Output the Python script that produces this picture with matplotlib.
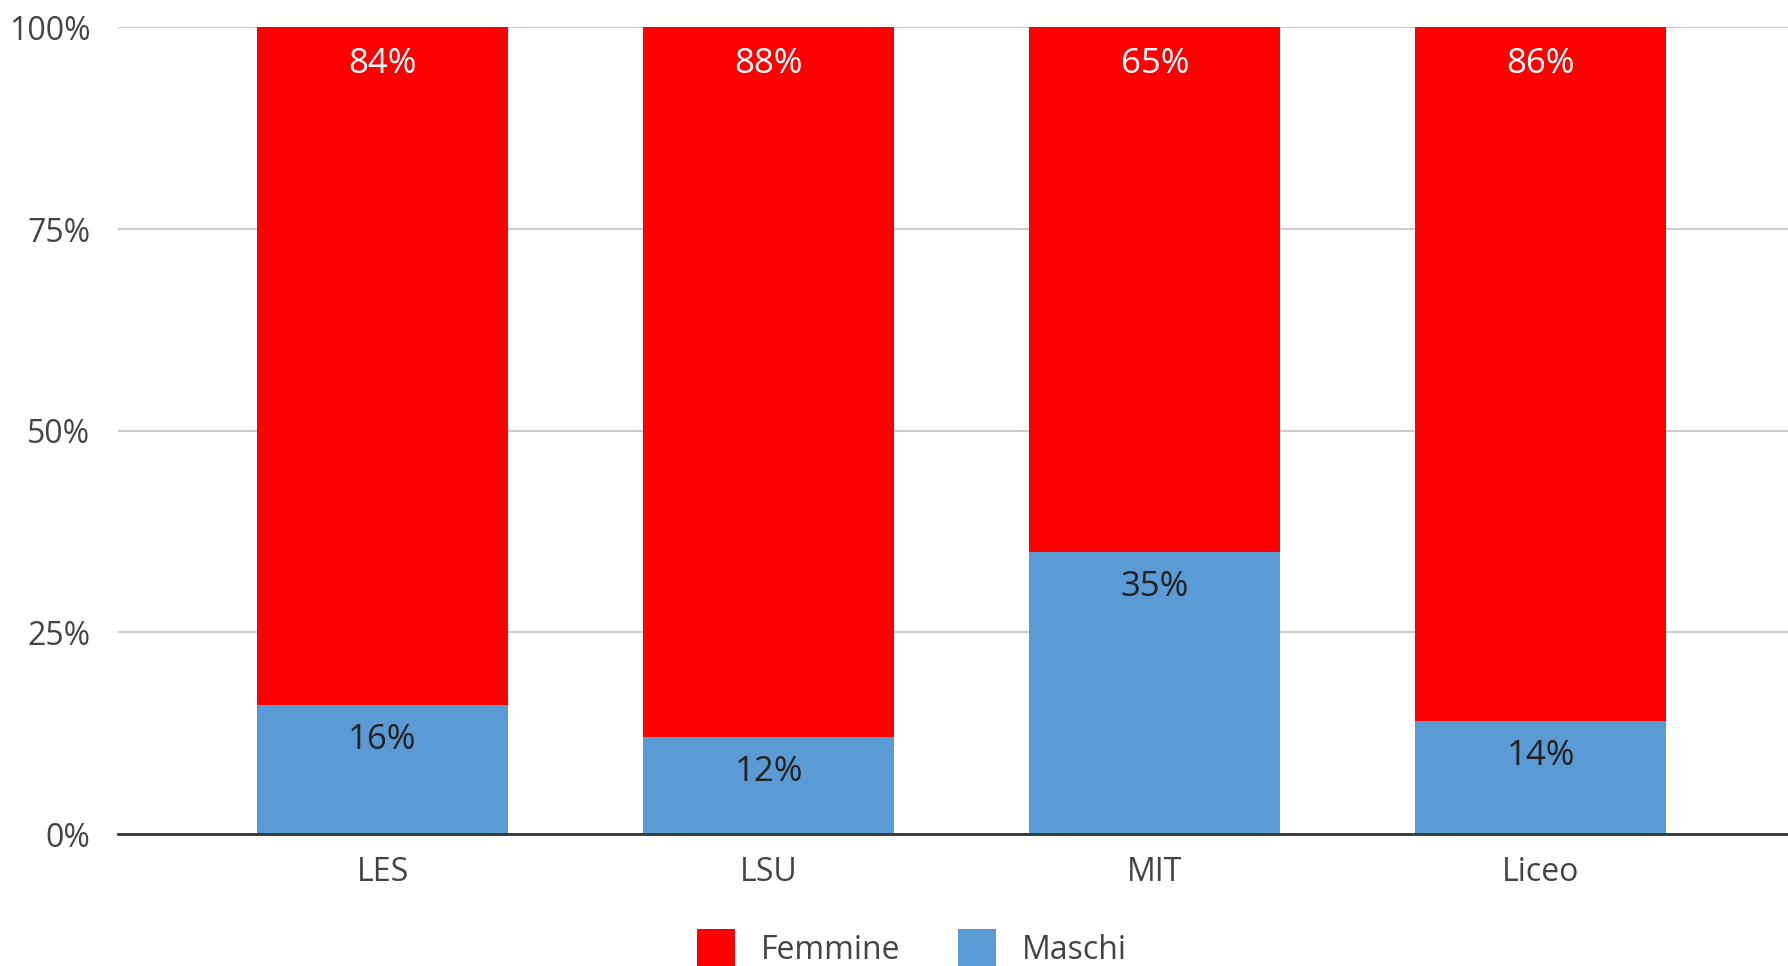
import matplotlib.pyplot as plt
from matplotlib.ticker import FuncFormatter

# dati
categorie = ['LES', 'LSU', 'MIT', 'Liceo']
femmine = [84, 88, 65, 86]
maschi = [16, 12, 35, 14]
yticks = [0, 25, 50, 75, 100]

rosso = '#FF0000'
blu = '#5B9BD5'

plt.rcParams['font.family'] = ['Open Sans', 'DejaVu Sans']

fig = plt.figure(figsize=(17.88, 9.66), dpi=100)
ax = fig.add_axes([0.066, 0.1366, 0.934, 0.835])

x = range(len(categorie))
b1 = ax.bar(x, maschi, width=0.65, color=blu, label='Maschi', zorder=3)
b2 = ax.bar(x, femmine, width=0.65, bottom=maschi, color=rosso, label='Femmine', zorder=3)

for i in x:
    ax.annotate(f'{femmine[i]}%', (i, maschi[i] + femmine[i]), xytext=(0, -14),
                textcoords='offset points', ha='center', va='top',
                fontsize=25, color='white', zorder=4)
    ax.annotate(f'{maschi[i]}%', (i, maschi[i]), xytext=(0, -13),
                textcoords='offset points', ha='center', va='top',
                fontsize=25, color='#222222', zorder=4)

ax.set_xlim(-0.685, 3.64)
ax.set_ylim(0, 100)
ax.set_yticks(yticks)
ax.yaxis.set_major_formatter(FuncFormatter(lambda v, p: f'{int(v)}%'))
ax.set_xticks(list(x))
ax.set_xticklabels(categorie)
ax.tick_params(axis='both', length=0, labelsize=23, labelcolor='#444444')
ax.tick_params(axis='x', pad=16)
ax.tick_params(axis='y', pad=20)

ax.grid(axis='y', color='#cccccc', linewidth=1.5, zorder=0)
for s in ['top', 'right', 'left']:
    ax.spines[s].set_visible(False)
ax.spines['bottom'].set_color('#333333')
ax.spines['bottom'].set_linewidth(2)
ax.spines['bottom'].set_zorder(5)

handles = [b2, b1]
fig.legend(handles, ['Femmine', 'Maschi'], loc='center', bbox_to_anchor=(0.51, 0.018),
           ncol=2, frameon=False, fontsize=23, handlelength=1.2, handleheight=1.5,
           handletextpad=0.8, columnspacing=1.8, labelcolor='#444444')

fig.savefig('out.png', dpi=100)
